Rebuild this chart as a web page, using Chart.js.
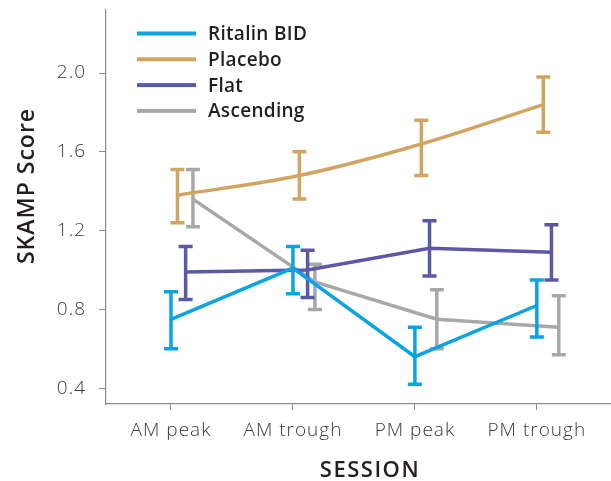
<!DOCTYPE html>
<html>
<head>
<meta charset="utf-8">
<script src="https://cdn.jsdelivr.net/npm/chart.js@4/dist/chart.umd.min.js"></script>
<style>
  html, body { margin: 0; padding: 0; background: #fff; }
  #chart { display: block; }
</style>
</head>
<body>
<canvas id="chart" width="611" height="481"></canvas>
<script>
// sessions on the x axis
const sessions = ['AM peak', 'AM trough', 'PM peak', 'PM trough'];
const yTicks = [0.4, 0.8, 1.2, 1.6, 2.0];

// SKAMP score means and error bar ends
const ritalinMean = [0.75, 1.01, 0.56, 0.82];
const ritalinLow  = [0.60, 0.88, 0.42, 0.66];
const ritalinHigh = [0.89, 1.12, 0.71, 0.95];

const placeboMean = [1.38, 1.48, 1.64, 1.84];
const placeboLow  = [1.24, 1.36, 1.48, 1.70];
const placeboHigh = [1.51, 1.60, 1.76, 1.98];

const flatMean = [0.99, 1.00, 1.11, 1.09];
const flatLow  = [0.85, 0.86, 0.97, 0.95];
const flatHigh = [1.12, 1.10, 1.25, 1.23];

const ascendingMean = [1.36, 0.94, 0.75, 0.71];
const ascendingLow  = [1.22, 0.80, 0.60, 0.57];
const ascendingHigh = [1.51, 1.03, 0.90, 0.87];

// small horizontal dodge per series so the error bars don't overlap
const dodge = [0, 0.053, 0.12, 0.18];

const FONT = '"Open Sans", Lato, sans-serif';

function makeSeries(label, color, mean, low, high, i, tension) {
    return {
        label: label,
        data: mean.map((v, k) => ({ x: k + dodge[i], y: v, lo: low[k], hi: high[k] })),
        borderColor: color,
        backgroundColor: color,
        borderWidth: 3.5,
        pointRadius: 0,
        tension: tension,
        fill: false
    };
}

const datasets = [
    makeSeries('Ritalin BID', '#0aa3e4', ritalinMean, ritalinLow, ritalinHigh, 0, 0),
    makeSeries('Placebo', '#d2a462', placeboMean, placeboLow, placeboHigh, 1, 0.35),
    makeSeries('Flat', '#5b58a6', flatMean, flatLow, flatHigh, 2, 0),
    makeSeries('Ascending', '#a7a8aa', ascendingMean, ascendingLow, ascendingHigh, 3, 0)
];

// error bars, drawn right after each line so the layering follows the series
const errorBars = {
    id: 'errorBars',
    afterDatasetDraw(chart, args) {
        const ctx = chart.ctx;
        const yScale = chart.scales.y;
        const ds = chart.data.datasets[args.index];
        const meta = args.meta;
        ctx.save();
        ctx.strokeStyle = ds.borderColor;
        ctx.lineWidth = 3.5;
        meta.data.forEach((pt, k) => {
            const d = ds.data[k];
            const yHi = yScale.getPixelForValue(d.hi);
            const yLo = yScale.getPixelForValue(d.lo);
            ctx.beginPath();
            ctx.moveTo(pt.x, yHi);
            ctx.lineTo(pt.x, yLo);
            ctx.moveTo(pt.x - 7, yHi);
            ctx.lineTo(pt.x + 7, yHi);
            ctx.moveTo(pt.x - 7, yLo);
            ctx.lineTo(pt.x + 7, yLo);
            ctx.stroke();
        });
        ctx.restore();
    }
};

// the original lettering is a wide geometric face, so space the letters out a bit
const spacing = {
    id: 'spacing',
    beforeDraw(chart) {
        chart.ctx.letterSpacing = '1px';
    }
};

// vertical legend in the upper left plus the two axis titles
const extras = {
    id: 'extras',
    afterDraw(chart) {
        const ctx = chart.ctx;
        ctx.save();
        ctx.textBaseline = 'middle';
        ctx.letterSpacing = '0.3px';
        ctx.font = '600 19px ' + FONT;
        chart.data.datasets.forEach((ds, i) => {
            const y = 33.5 + i * 25.8;
            ctx.fillStyle = ds.borderColor;
            ctx.fillRect(137, y - 2, 59, 4);
            ctx.fillStyle = '#231f20';
            ctx.textAlign = 'left';
            ctx.fillText(ds.label, 208, y + 1);
        });

        ctx.fillStyle = '#231f20';
        ctx.letterSpacing = '1.5px';
        ctx.font = '600 22px ' + FONT;
        ctx.textAlign = 'center';
        ctx.fillText('SESSION', 370, 471);

        ctx.translate(27, 186);
        ctx.rotate(-Math.PI / 2);
        ctx.letterSpacing = '1px';
        ctx.font = '600 23px ' + FONT;
        ctx.fillText('SKAMP Score', 0, 0);
        ctx.restore();
    }
};

new Chart(document.getElementById('chart'), {
    type: 'line',
    data: { datasets: datasets },
    options: {
        responsive: false,
        animation: false,
        layout: { padding: { top: 10, right: 1, left: 0, bottom: 0 } },
        plugins: {
            legend: { display: false },
            tooltip: { enabled: false }
        },
        scales: {
            x: {
                type: 'linear',
                min: -0.533,
                max: 3.6,
                afterBuildTicks: (scale) => { scale.ticks = sessions.map((s, i) => ({ value: i })); },
                afterFit: (scale) => {
                    scale.height = 77;
                    scale.paddingLeft = 0;
                    scale.paddingRight = 0;
                },
                border: { color: '#8c8c8c', width: 1.2 },
                grid: { drawOnChartArea: false, drawTicks: true, tickLength: 6, color: '#8c8c8c' },
                ticks: {
                    padding: 9,
                    color: '#3a3a3a',
                    font: { family: FONT, size: 19, weight: '300' },
                    callback: (v) => sessions[v]
                }
            },
            y: {
                min: 0.32,
                max: 2.32,
                afterBuildTicks: (scale) => { scale.ticks = yTicks.map(v => ({ value: v })); },
                afterFit: (scale) => {
                    scale.width = 106;
                    scale.paddingTop = 0;
                    scale.paddingBottom = 0;
                },
                border: { color: '#8c8c8c', width: 1.2 },
                grid: { drawOnChartArea: false, drawTicks: true, tickLength: 7, color: '#8c8c8c' },
                ticks: {
                    padding: 13,
                    color: '#3a3a3a',
                    font: { family: FONT, size: 19, weight: '300' },
                    callback: (v) => v.toFixed(1)
                }
            }
        }
    },
    plugins: [spacing, errorBars, extras]
});
</script>
</body>
</html>
